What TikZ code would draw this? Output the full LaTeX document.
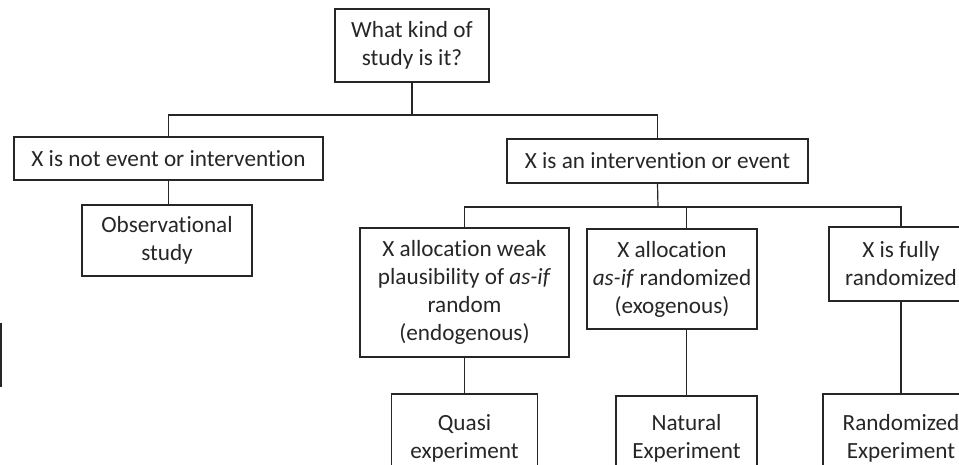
\documentclass[tikz,border=0pt]{standalone}
\usepackage{fontspec}
\setmainfont{Carlito}[Ligatures=NoCommon]
\begin{document}
\begin{tikzpicture}[x=0.5pt, y=-0.5pt,
  every node/.style={font=\fontsize{11.6}{14}\selectfont, text=black!85},
  box/.style={draw=black!85, line width=0.6pt, align=center, inner sep=0pt},
  boxsize/.style 2 args={minimum width=#1*0.5pt, minimum height=#2*0.5pt},
  link/.style={draw=black!85, line width=0.6pt}]
\useasboundingbox (0,0) rectangle (959,465);
\clip (0,0) rectangle (959,465);
% Question
\node[box, boxsize={154}{73}] (kind) at (412,45.5) {What kind of\\study is it?};
% First split
\node[box, boxsize={309}{43}] (notx) at (168.5,158.5) {X is not event or intervention};
\node[box, boxsize={301}{44}] (isx) at (657.5,161) {X is an intervention or event};
\node[box, boxsize={170}{71}] (obs) at (167,240.5) {Observational\\study};
% Allocation of X
\node[box, boxsize={209}{129}] (weak) at (464.5,292.5) {X allocation weak\\plausibility of \textit{as-if}\\random\\(endogenous)};
\node[box, boxsize={170}{100}] (asif) at (672,279) {X allocation\\\textit{as-if} randomized\\(exogenous)};
\node[box, boxsize={144}{74}] (full) at (901,264) {X is fully\\randomized};
% Kind of experiment (cut off at the bottom)
\node[box, boxsize={146}{88}] (quasi) at (464.5,438) {Quasi\\experiment};
\node[box, boxsize={141}{84}] (nat) at (686.5,438) {Natural\\Experiment};
\node[box, boxsize={156}{88}] (rand) at (901,438) {Randomized\\Experiment};
% Connectors
\coordinate (topsplit) at (412,115);
\coordinate (midsplit) at (658,207);
\draw[link] (kind.south) -- (topsplit);
\draw[link] (notx.north) |- (topsplit) -| (isx.north);
\draw[link] (notx.south) -- (notx.south |- obs.north);
\draw[link] (isx.south) -- (midsplit);
\draw[link] (weak.north) |- (midsplit) -| (full.north);
\draw[link] (midsplit) -| (nat.north |- asif.north);
\draw[link] (weak.south) -- (quasi.north);
\draw[link] (nat.north |- asif.south) -- (nat.north);
\draw[link] (full.south) -- (rand.north);
% Stray edge at the left
\draw[link] (1,323) -- (1,387);
\end{tikzpicture}
\end{document}
